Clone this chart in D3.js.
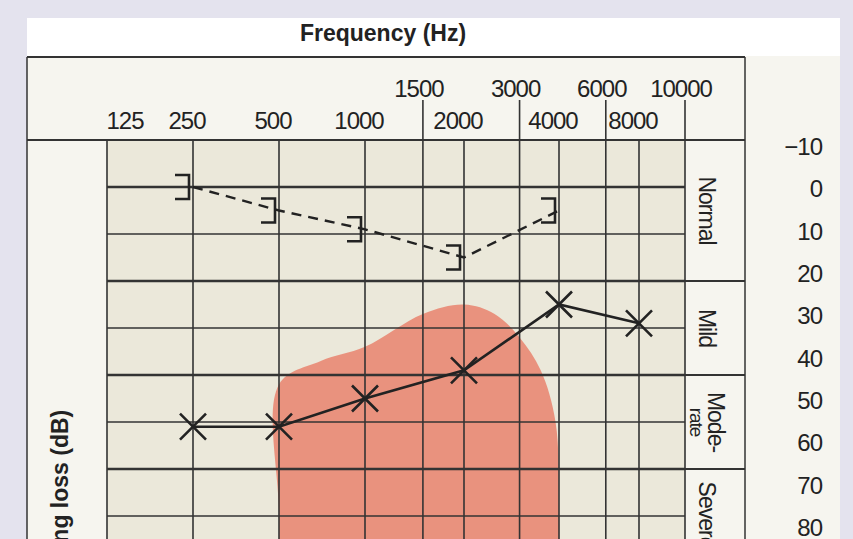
<!DOCTYPE html>
<html>
<head>
<meta charset="utf-8">
<script src="https://cdn.jsdelivr.net/npm/d3@7"></script>
<style>
  body { margin: 0; background: #e4e3ee; }
  text { font-family: "Liberation Sans", Arial, sans-serif; fill: #222; letter-spacing: -1px; }
</style>
</head>
<body>
<svg id="chart" width="853" height="539"></svg>
<script>
// audiogram data (freq in Hz, hearing level in dB)
const gridFreqs = [125, 250, 500, 1000, 1500, 2000, 3000, 4000, 6000, 8000, 10000]
const lowTicks = [125, 250, 500, 1000, 2000, 4000, 8000]
const highTicks = [1500, 3000, 6000, 10000]
const gridLevels = [-10, 0, 10, 20, 30, 40, 50, 60, 70, 80]
const levelTicks = [-10, 0, 10, 20, 30, 40, 50, 60, 70, 80]
const airFreqs = [250, 500, 1000, 2000, 4000, 8000]
const airLevels = [51, 51, 45, 39, 25, 29]
const boneFreqs = [250, 500, 1000, 2000, 4000]
const boneLevels = [0, 5, 9, 15, 5]
const bananaFreqs = [500, 500, 500, 700, 1000, 1500, 2000, 2500, 3000, 3500, 3900, 4000, 4000]
const bananaLevels = [100, 70, 42, 37, 34, 27, 25, 27, 32, 39, 50, 70, 100]
const categories = ['Normal', 'Mild', 'Mode-|rate', 'Severe']
const categoryBounds = [[-10, 20], [20, 40], [40, 60], [60, 85]]

const svg = d3.select('#chart')

// hand drawn chart, so octaves are not exactly even
const x = d3.scaleLog()
    .domain([125, 1000, 2000, 4000, 8000, 10000])
    .range([107, 365, 464, 559, 639, 685])
const y = d3.scaleLinear().domain([-10, 80]).range([140, 563])
const yLabel = d3.scaleLinear().domain([-10, 80]).range([146, 527])

// panels
svg.append('rect').attr('x', 27).attr('y', 18).attr('width', 813).attr('height', 530).attr('fill', '#f6f5ef')
svg.append('rect').attr('x', 27).attr('y', 18).attr('width', 813).attr('height', 38).attr('fill', '#ffffff')
svg.append('rect').attr('x', x(125)).attr('y', y(-10)).attr('width', x(10000) - x(125)).attr('height', 420).attr('fill', '#ebe8da')

svg.append('text').attr('x', 383).attr('y', 41).attr('text-anchor', 'middle')
    .style('font-weight', 'bold').style('font-size', '23px').style('letter-spacing', '0px')
    .text('Frequency (Hz)')

// speech area
svg.append('path')
    .datum(d3.zip(bananaFreqs, bananaLevels))
    .attr('d', d3.line().x(d => x(d[0])).y(d => y(d[1])).curve(d3.curveCatmullRom.alpha(0.5)))
    .attr('fill', '#e9836d').attr('opacity', 0.85)

// grid
svg.selectAll('.vline').data(gridFreqs).join('line')
    .attr('x1', d => x(d)).attr('x2', d => x(d))
    .attr('y1', d => highTicks.includes(d) ? 100 : y(-10)).attr('y2', 539)
    .attr('stroke', '#333').attr('stroke-width', 1.6)
svg.selectAll('.hline').data(gridLevels).join('line')
    .attr('x1', x(125)).attr('x2', x(10000))
    .attr('y1', d => y(d)).attr('y2', d => y(d))
    .attr('stroke', '#333').attr('stroke-width', d => d % 20 === 0 ? 2.4 : 1.6)

// frame lines
svg.append('line').attr('x1', 27).attr('x2', 745).attr('y1', 57).attr('y2', 57).attr('stroke', '#333').attr('stroke-width', 2)
svg.append('line').attr('x1', 27).attr('x2', 745).attr('y1', y(-10)).attr('y2', y(-10)).attr('stroke', '#333').attr('stroke-width', 2)
svg.append('line').attr('x1', 27).attr('x2', 27).attr('y1', 57).attr('y2', 539).attr('stroke', '#333').attr('stroke-width', 1.5)
svg.append('line').attr('x1', 745).attr('x2', 745).attr('y1', 57).attr('y2', 539).attr('stroke', '#333').attr('stroke-width', 1.5)
svg.selectAll('.sep').data(categoryBounds.slice(1)).join('line')
    .attr('x1', x(10000)).attr('x2', 745)
    .attr('y1', d => y(d[0])).attr('y2', d => y(d[0]))
    .attr('stroke', '#333').attr('stroke-width', 2)

// frequency labels
svg.selectAll('.lowt').data(lowTicks).join('text')
    .attr('x', d => d === 125 ? x(d) + 18 : x(d) - 6).attr('y', 129)
    .attr('text-anchor', 'middle').style('font-size', '24px').text(d => d)
svg.selectAll('.hight').data(highTicks).join('text')
    .attr('x', d => x(d) - 4).attr('y', 97)
    .attr('text-anchor', 'middle').style('font-size', '24px').text(d => d)

// level labels
svg.selectAll('.lvl').data(levelTicks).join('text')
    .attr('x', 822).attr('y', d => yLabel(d) + 9)
    .attr('text-anchor', 'end').style('font-size', '24px')
    .text(d => d < 0 ? '\u2212' + Math.abs(d) : d)

// category labels, rotated
categories.forEach((c, i) => {
    const mid = (y(categoryBounds[i][0]) + y(categoryBounds[i][1])) / 2
    const parts = c.split('|')
    parts.forEach((p, j) => {
        svg.append('text')
            .attr('transform', `translate(${parts.length > 1 ? 716 - j * 19 : 707},${i === 3 ? 515 : mid}) rotate(90)`)
            .attr('text-anchor', 'middle').attr('dy', '0.35em')
            .style('font-size', parts.length > 1 && j === 1 ? '19px' : '23px')
            .text(p)
    })
})

// y axis title
svg.append('text').attr('transform', 'translate(60,505) rotate(-90)')
    .attr('text-anchor', 'middle').attr('dy', '0.35em')
    .style('font-weight', 'bold').style('font-size', '23px').style('letter-spacing', '0px')
    .text('Hearing loss (dB)')

// bone conduction (dashed) with ] marks
const bone = d3.zip(boneFreqs, boneLevels)
svg.append('path').datum(bone)
    .attr('d', d3.line().x(d => x(d[0])).y(d => y(d[1])))
    .attr('fill', 'none').attr('stroke', '#222').attr('stroke-width', 2.4).attr('stroke-dasharray', '10,7')
svg.selectAll('.bk').data(bone).join('path')
    .attr('d', d => {
        const cx = x(d[0]) - 4, cy = y(d[1])
        return `M${cx - 14},${cy - 12}H${cx}V${cy + 12}H${cx - 14}`
    })
    .attr('fill', 'none').attr('stroke', '#222').attr('stroke-width', 2.6)

// air conduction with X marks
const air = d3.zip(airFreqs, airLevels)
svg.append('path').datum(air)
    .attr('d', d3.line().x(d => x(d[0])).y(d => y(d[1])))
    .attr('fill', 'none').attr('stroke', '#222').attr('stroke-width', 2.6)
svg.selectAll('.xm').data(air).join('path')
    .attr('d', d => {
        const cx = x(d[0]), cy = y(d[1]), s = 13
        return `M${cx - s},${cy - s}L${cx + s},${cy + s}M${cx + s},${cy - s}L${cx - s},${cy + s}`
    })
    .attr('stroke', '#222').attr('stroke-width', 2.6)
</script>
</body>
</html>
